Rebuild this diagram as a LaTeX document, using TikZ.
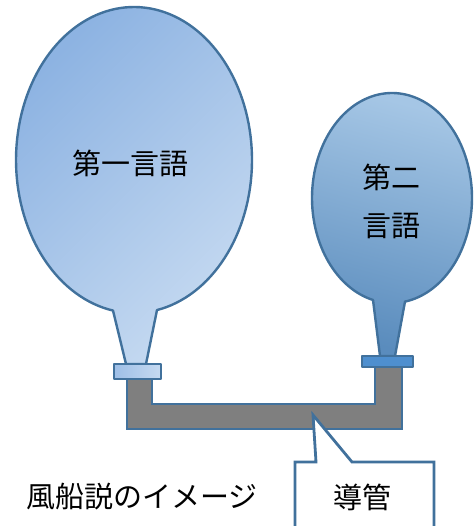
\documentclass[tikz,border=0pt]{standalone}
\usepackage{fontspec}
\newfontfamily\jpfont{Noto Sans CJK JP}
\usetikzlibrary{positioning}
\definecolor{edge}{HTML}{41719C}
\definecolor{tubegray}{HTML}{7F7F7F}
\definecolor{firstdark}{HTML}{8DB3E2}
\definecolor{firstlight}{HTML}{C6DAF1}
\definecolor{secondlight}{HTML}{A5C6E5}
\definecolor{seconddark}{HTML}{5A8CBD}
\definecolor{capblue}{HTML}{4E8FCF}
\tikzset{
  skin/.style={draw=edge, line width=2.4pt, line join=round},
  tube/.style={draw=edge, line width=2.4pt, fill=tubegray, line join=miter},
  word/.style={font=\jpfont\fontsize{29}{48}\selectfont, align=center, inner sep=0pt},
  tag/.style={draw=edge, line width=2.8pt, fill=white, line join=miter},
}

\begin{document}
\begin{tikzpicture}[x=1pt, y=-1pt]
  \clip (0,0) rectangle (473,526);

  % pipe between the two balloons
  \draw[tube] (127,378) -- (127,429) -- (402,429) -- (402,366) -- (375,366)
              -- (375,404) -- (152,404) -- (152,378) -- cycle;

  % big balloon: ellipse body plus neck
  \draw[skin, top color=firstdark, bottom color=firstlight, shading angle=45]
    plot[domain=78.76:-259.75, samples=140, variable=\t]
      ({134+118*cos(\t)}, {160+153*sin(\t)})
    -- (126,364) -- (146,364) -- cycle;
  \draw[skin, left color=firstdark!85, right color=firstlight] (114,364) rectangle (161,379);

  % small balloon
  \draw[skin, top color=secondlight, bottom color=seconddark, shading angle=-15]
    plot[domain=80.65:-256.26, samples=140, variable=\t]
      ({392+80*cos(\t)}, {198+105*sin(\t)})
    -- (380,356) -- (395,356) -- cycle;
  \draw[skin, fill=capblue] (362,356) rectangle (413,367);

  % texts
  \node[word] (first) at (130,163) {第一言語};
  \node[word] (second) at (391,201) {第二\\言語};

  % callout for the pipe
  \draw[tag] (295,540) -- (295,462) -- (316,462) -- (313,415) -- (352,462)
             -- (434,462) -- (434,540);
  \node[word] (duct) at (362,497) {導管};

  \node[word] (caption) at (142,497) {風船説のイメージ};
\end{tikzpicture}
\end{document}
